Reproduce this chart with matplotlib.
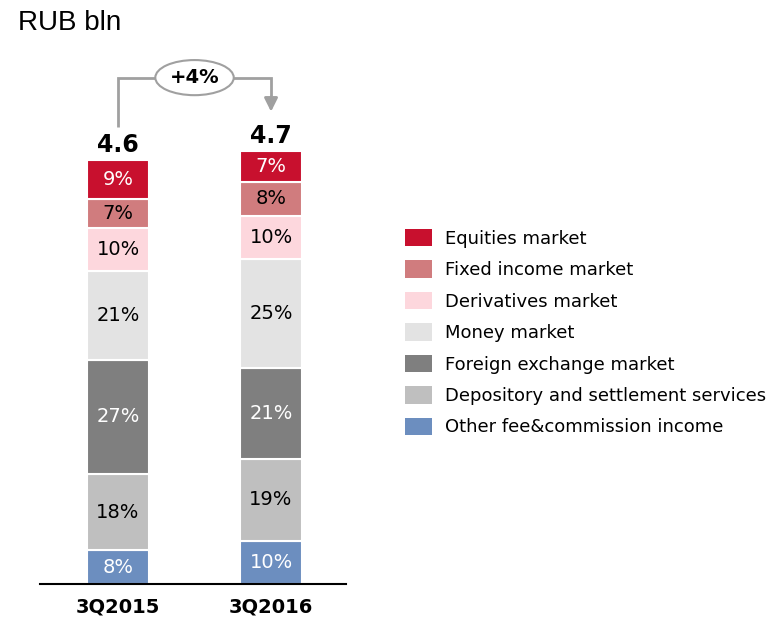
import matplotlib
matplotlib.use('Agg')
import matplotlib.pyplot as plt
from matplotlib.patches import Patch
import numpy as np

plt.rcParams['font.family'] = ['DejaVu Sans']

# fee & commission income structure, RUB bln
periods = ['3Q2015', '3Q2016']
totals = [4.6, 4.7]
change_label = '+4%'

# stacked bottom -> top
segments = ['Other fee&commission income', 'Depository and settlement services',
            'Foreign exchange market', 'Money market', 'Derivatives market',
            'Fixed income market', 'Equities market']
shares_2015 = [8, 18, 27, 21, 10, 7, 9]
shares_2016 = [10, 19, 21, 25, 10, 8, 7]
colors = ['#6C8EBF', '#BFBFBF', '#7F7F7F', '#E3E3E3', '#FDD7DD', '#D07C7E', '#C8102E']
text_colors = ['white', 'black', 'white', 'black', 'black', 'black', 'white']

W, H = 778, 618
fig = plt.figure(figsize=(W / 100, H / 100), dpi=100)
ax = fig.add_axes([40 / W, 34 / H, 306 / W, 534 / H])

x = np.arange(len(periods))
shares = np.array([shares_2015, shares_2016], dtype=float)
values = shares / 100 * np.array(totals)[:, None]
bottom = np.zeros(len(periods))
for i, seg in enumerate(segments):
    h = values[:, i]
    ax.bar(x, h, 0.4, bottom=bottom, color=colors[i], edgecolor='white',
           linewidth=1.5, label=seg)
    for j in range(len(periods)):
        ax.text(x[j], bottom[j] + h[j] / 2, f'{shares[j, i]:.0f}%',
                ha='center', va='center', fontsize=14, color=text_colors[i])
    bottom += h

for j, t in enumerate(totals):
    ax.text(x[j], t + 0.04, f'{t:.1f}', ha='center', va='bottom',
            fontsize=17, fontweight='bold')

# growth bracket between the two bars
gray = '#A0A0A0'
y_top = 5.5
ax.plot([x[0], x[0], x[1], x[1]], [4.96, y_top, y_top, 5.3], color=gray,
        lw=2, solid_capstyle='butt', solid_joinstyle='miter')
ax.annotate('', xy=(x[1], 5.1), xytext=(x[1], 5.32),
            arrowprops=dict(arrowstyle='-|>,head_length=0.8,head_width=0.4',
                            color=gray, lw=2))
ax.text((x[0] + x[1]) / 2, y_top, change_label, ha='center', va='center',
        fontsize=14, fontweight='bold',
        bbox=dict(boxstyle='ellipse,pad=0.15', fc='white', ec=gray, lw=1.5))

ax.set_xlim(-0.51, 1.49)
ax.set_ylim(0, 5.8)
ax.set_xticks(x)
ax.set_xticklabels(periods, fontsize=14, fontweight='bold')
ax.tick_params(axis='x', length=0, pad=10)
ax.set_yticks([])
for s in ['top', 'right', 'left']:
    ax.spines[s].set_visible(False)
ax.spines['bottom'].set_linewidth(1.5)

fig.text(18 / W, 1 - 23 / H, 'RUB bln', family='Liberation Sans', fontsize=20,
         va='center', ha='left')

handles = [Patch(facecolor=c, edgecolor='none') for c in colors[::-1]]
fig.legend(handles, segments[::-1], loc='upper left',
           bbox_to_anchor=(405 / W, 1 - 229 / H), frameon=False, fontsize=13,
           borderpad=0, borderaxespad=0, handlelength=1.5, handleheight=1.1,
           handletextpad=0.7, labelspacing=0.7)

fig.savefig('out.png', dpi=100)
